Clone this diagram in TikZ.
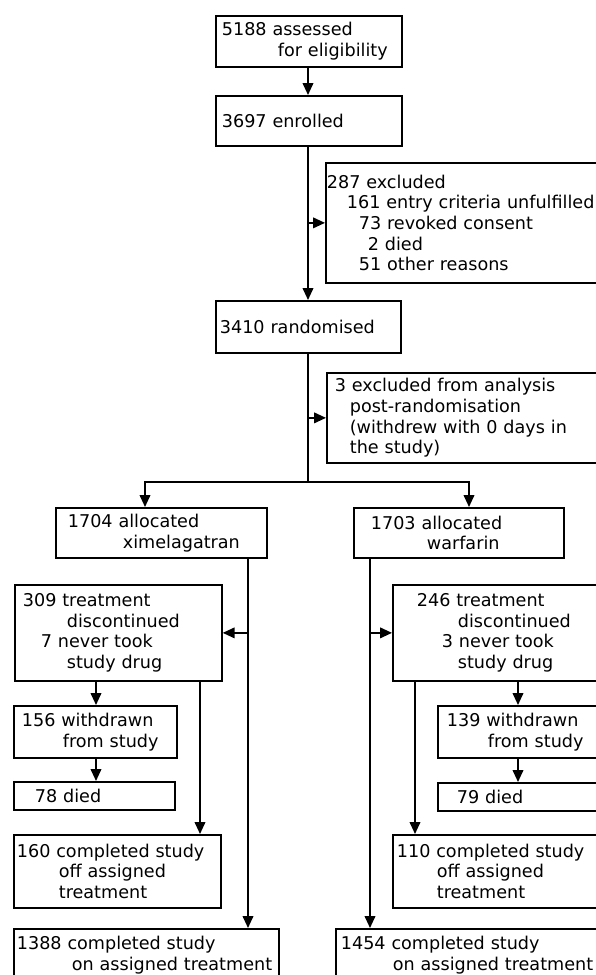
\documentclass[tikz,border=0pt]{standalone}
\usepackage{fontspec}
\setmainfont{DejaVu Sans}
\usetikzlibrary{arrows.meta}

% one text line, indented by #1 pixels of the drawing
\newcommand{\bline}[2]{\hspace*{#1\dimexpr 0.75pt\relax}\mbox{#2}}

\tikzset{
  flowbox/.style={rectangle, draw=black, line width=1.3pt, anchor=north west,
                  inner xsep=0pt, inner ysep=0pt, align=left,
                  font=\fontsize{13.2}{15.5}\selectfont},
  flowarrow/.style={line width=1.3pt, -{Triangle[length=9pt,width=8pt]}},
  flowline/.style={line width=1.3pt}
}

\begin{document}
\begin{tikzpicture}[x=0.75pt, y=-0.75pt]
\useasboundingbox (0,0) rectangle (596,975);

% main column
\node[flowbox, text width=139.5pt, minimum height=38.25pt] (assessed) at (215,15)
{\bline{6}{5188 assessed}\\ \bline{62}{for eligibility}};
\node[flowbox, text width=139.5pt, minimum height=37.5pt] (enrolled) at (215,95)
{\bline{6}{3697 enrolled}};
\node[flowbox, text width=203.25pt, minimum height=90pt] (excluded) at (325,162)
{\bline{1}{287 excluded}\\ \bline{21}{161 entry criteria unfulfilled}\\ \bline{33}{73 revoked consent}\\
 \bline{42}{2 died}\\ \bline{33}{51 other reasons}};
\node[flowbox, text width=138.75pt, minimum height=39pt] (randomised) at (215,300)
{\bline{4}{3410 randomised}};
\node[flowbox, text width=202.5pt, minimum height=67.5pt] (postrand) at (326,372)
{\bline{8}{3 excluded from analysis}\\ \bline{23}{post-randomisation}\\ \bline{23}{(withdrew with 0 days in}\\
 \bline{23}{the study)}};

% ximelagatran arm
\node[flowbox, text width=158.25pt, minimum height=37.5pt] (ximel) at (55,507)
{\bline{12}{1704 allocated}\\ \bline{67}{ximelagatran}};
\node[flowbox, text width=155.25pt, minimum height=72pt] (discL) at (14,584)
{\bline{8}{309 treatment}\\ \bline{52}{discontinued}\\ \bline{26}{7 never took}\\ \bline{52}{study drug}};
\node[flowbox, text width=122.25pt, minimum height=39pt] (withdrL) at (13,705)
{\bline{8}{156 withdrawn}\\ \bline{49}{from study}};
\node[flowbox, text width=120.75pt, minimum height=21pt] (diedL) at (13,781)
{\bline{21}{78 died}};
\node[flowbox, text width=155.25pt, minimum height=54.75pt] (offL) at (13,834)
{\bline{3}{160 completed study}\\ \bline{45}{off assigned}\\ \bline{45}{treatment}};
\node[flowbox, text width=198.75pt, minimum height=39pt] (onL) at (13,928)
{\bline{3}{1388 completed study}\\ \bline{58}{on assigned treatment}};

% warfarin arm
\node[flowbox, text width=157.5pt, minimum height=37.5pt] (warf) at (353,507)
{\bline{17}{1703 allocated}\\ \bline{73}{warfarin}};
\node[flowbox, text width=153pt, minimum height=72pt] (discR) at (392,584)
{\bline{24}{246 treatment}\\ \bline{65}{discontinued}\\ \bline{49}{3 never took}\\ \bline{65}{study drug}};
\node[flowbox, text width=119.25pt, minimum height=39pt] (withdrR) at (437,705)
{\bline{9}{139 withdrawn}\\ \bline{50}{from study}};
\node[flowbox, text width=119.25pt, minimum height=21pt] (diedR) at (437,782)
{\bline{19}{79 died}};
\node[flowbox, text width=153pt, minimum height=54.75pt] (offR) at (392,834)
{\bline{4}{110 completed study}\\ \bline{44}{off assigned}\\ \bline{44}{treatment}};
\node[flowbox, text width=195.75pt, minimum height=39pt] (onR) at (335,928)
{\bline{5}{1454 completed study}\\ \bline{57}{on assigned treatment}};

% columns of the connectors
\coordinate (trunk) at (308,0);
\coordinate (split) at (308,482);
\coordinate (xarmL) at (145,0);
\coordinate (xarmR) at (469,0);
\coordinate (xsideL) at (248,0);
\coordinate (xsideR) at (370,0);
\coordinate (xwdL) at (96,0);
\coordinate (xoffL) at (200,0);
\coordinate (xwdR) at (518,0);
\coordinate (xoffR) at (415,0);

\draw[flowarrow] (assessed.south -| trunk) -- (enrolled.north -| trunk);
\draw[flowarrow] (enrolled.south -| trunk) -- (randomised.north -| trunk);
\draw[flowarrow] (excluded.west -| trunk) -- (excluded.west);
\draw[flowline] (randomised.south -| trunk) -- (split);
\draw[flowarrow] (postrand.west -| trunk) -- (postrand.west);
\draw[flowarrow] (split) -| (ximel.north -| xarmL);
\draw[flowarrow] (split) -| (warf.north -| xarmR);

\draw[flowarrow] (ximel.south -| xsideL) -- (onL.north -| xsideL);
\draw[flowarrow] (discL.east -| xsideL) -- (discL.east);
\draw[flowarrow] (discL.south -| xwdL) -- (withdrL.north -| xwdL);
\draw[flowarrow] (withdrL.south -| xwdL) -- (diedL.north -| xwdL);
\draw[flowarrow] (discL.south -| xoffL) -- (offL.north -| xoffL);

\draw[flowarrow] (warf.south -| xsideR) -- (onR.north -| xsideR);
\draw[flowarrow] (discR.west -| xsideR) -- (discR.west);
\draw[flowarrow] (discR.south -| xwdR) -- (withdrR.north -| xwdR);
\draw[flowarrow] (withdrR.south -| xwdR) -- (diedR.north -| xwdR);
\draw[flowarrow] (discR.south -| xoffR) -- (offR.north -| xoffR);
\end{tikzpicture}
\end{document}
